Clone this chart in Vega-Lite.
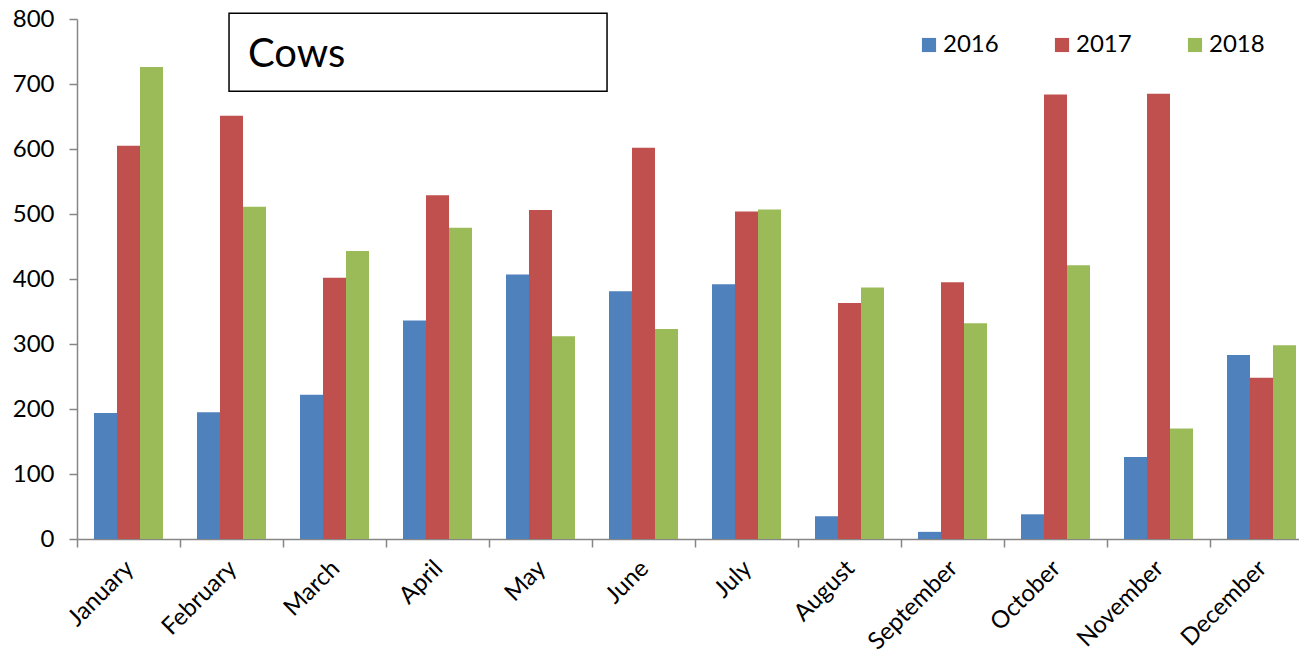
{
  "$schema": "https://vega.github.io/schema/vega-lite/v6.json",
  "width": 1236,
  "height": 520,
  "padding": {"left": 12, "top": 7, "right": 0, "bottom": 0},
  "background": "white",
  "config": {
    "view": {"stroke": null},
    "font": "Lato",
    "axis": {"labelFont": "Lato", "labelColor": "black", "domainColor": "#868686", "tickColor": "#868686", "domainWidth": 1.5, "tickWidth": 1.5, "grid": false, "title": null}
  },
  "layer": [
    {
      "data": {"values": [
        {"month": "January", "year": "2016", "cows": 194},
        {"month": "January", "year": "2017", "cows": 605},
        {"month": "January", "year": "2018", "cows": 726},
        {"month": "February", "year": "2016", "cows": 195},
        {"month": "February", "year": "2017", "cows": 651},
        {"month": "February", "year": "2018", "cows": 511},
        {"month": "March", "year": "2016", "cows": 222},
        {"month": "March", "year": "2017", "cows": 402},
        {"month": "March", "year": "2018", "cows": 443},
        {"month": "April", "year": "2016", "cows": 336},
        {"month": "April", "year": "2017", "cows": 529},
        {"month": "April", "year": "2018", "cows": 479},
        {"month": "May", "year": "2016", "cows": 407},
        {"month": "May", "year": "2017", "cows": 506},
        {"month": "May", "year": "2018", "cows": 312},
        {"month": "June", "year": "2016", "cows": 381},
        {"month": "June", "year": "2017", "cows": 602},
        {"month": "June", "year": "2018", "cows": 323},
        {"month": "July", "year": "2016", "cows": 392},
        {"month": "July", "year": "2017", "cows": 504},
        {"month": "July", "year": "2018", "cows": 507},
        {"month": "August", "year": "2016", "cows": 35},
        {"month": "August", "year": "2017", "cows": 363},
        {"month": "August", "year": "2018", "cows": 387},
        {"month": "September", "year": "2016", "cows": 11},
        {"month": "September", "year": "2017", "cows": 395},
        {"month": "September", "year": "2018", "cows": 332},
        {"month": "October", "year": "2016", "cows": 38},
        {"month": "October", "year": "2017", "cows": 684},
        {"month": "October", "year": "2018", "cows": 421},
        {"month": "November", "year": "2016", "cows": 126},
        {"month": "November", "year": "2017", "cows": 685},
        {"month": "November", "year": "2018", "cows": 170},
        {"month": "December", "year": "2016", "cows": 283},
        {"month": "December", "year": "2017", "cows": 248},
        {"month": "December", "year": "2018", "cows": 298}
      ]},
      "mark": {"type": "bar"},
      "encoding": {
        "x": {
          "field": "month", "type": "nominal",
          "scale": {"domain": ["January","February","March","April","May","June","July","August","September","October","November","December"], "paddingInner": 0, "paddingOuter": 0},
          "axis": {"labelAngle": -45, "labelFontSize": 24, "tickSize": 8, "bandPosition": 0, "labelPadding": 9, "labelOffset": -7, "labelBound": false, "labelOverlap": false}
        },
        "xOffset": {
          "field": "year", "type": "nominal",
          "scale": {"paddingInner": 0, "paddingOuter": 0.739}
        },
        "y": {
          "field": "cows", "type": "quantitative",
          "scale": {"domain": [0, 800], "nice": false},
          "axis": {"values": [0,100,200,300,400,500,600,700,800], "labelFontSize": 24, "tickSize": 8, "labelPadding": 15}
        },
        "color": {
          "field": "year", "type": "nominal",
          "scale": {"domain": ["2016","2017","2018"], "range": ["#4F81BD","#C0504D","#9BBB59"]},
          "legend": {"title": null, "orient": "none", "legendX": 840, "legendY": 14, "direction": "horizontal", "columns": 3, "columnPadding": 51, "symbolType": "square", "symbolSize": 200, "symbolStrokeWidth": 0, "labelFontSize": 24, "labelFont": "Lato", "labelOffset": 2, "labelColor": "black"}
        }
      }
    },
    {
      "data": {"values": [{}]},
      "mark": {"type": "rect", "fill": "white", "stroke": "black", "strokeWidth": 1.5},
      "encoding": {
        "x": {"datum": "February", "type": "nominal", "bandPosition": 0.476},
        "x2": {"datum": "June", "bandPosition": 0.146},
        "y": {"datum": 809, "type": "quantitative"},
        "y2": {"datum": 689}
      }
    },
    {
      "data": {"values": [{}]},
      "mark": {"type": "text", "align": "left", "baseline": "alphabetic", "fontSize": 40, "font": "Lato", "color": "black"},
      "encoding": {
        "x": {"datum": "February", "type": "nominal", "bandPosition": 0.66},
        "y": {"datum": 726, "type": "quantitative"},
        "text": {"value": "Cows"}
      }
    }
  ]
}
